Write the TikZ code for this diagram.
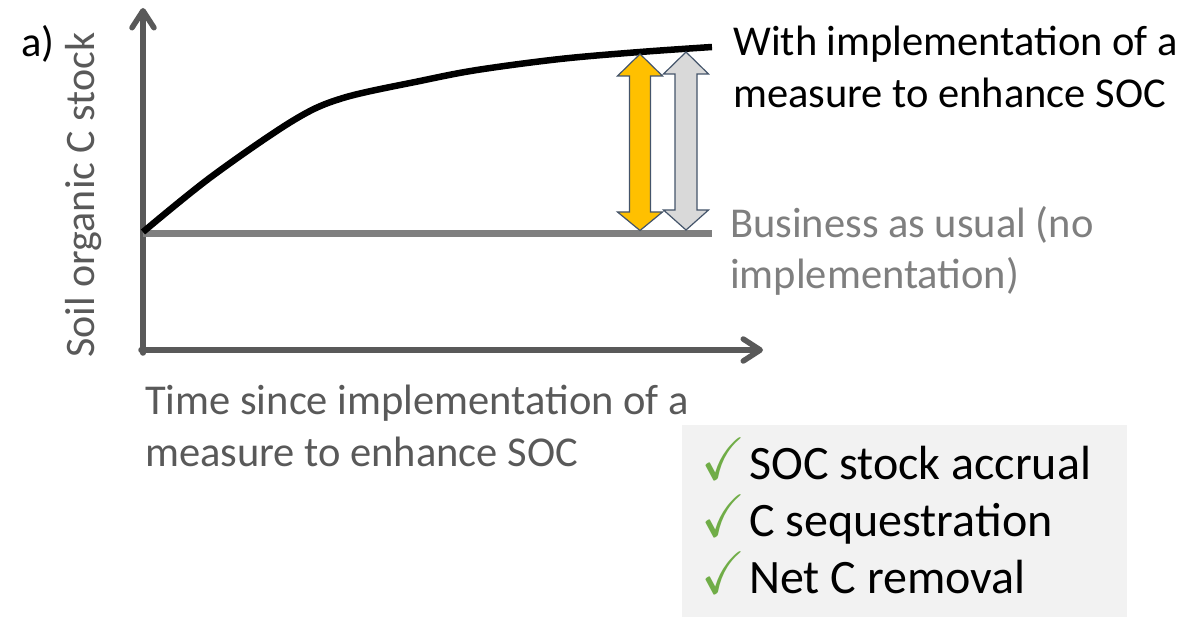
\documentclass[tikz,border=0pt]{standalone}
\usepackage{fontspec}
\usepackage{amssymb}
\usepackage{graphicx}
\setmainfont{Carlito}
\usetikzlibrary{arrows.meta}
\definecolor{axisgray}{HTML}{595959}
\definecolor{baugray}{HTML}{7F7F7F}
\definecolor{gold}{HTML}{FFC000}
\definecolor{lightg}{HTML}{D9D9D9}
\definecolor{outl}{HTML}{44546A}
\definecolor{boxbg}{HTML}{F2F2F2}
\definecolor{chk}{HTML}{70AD47}
\newcommand{\chk}{\makebox[48pt][l]{\color{chk}\scalebox{5.3}[6.0]{\fontsize{10}{10}\selectfont$\checkmark$}}}
\begin{document}
\begin{tikzpicture}[x=1pt,y=-1pt,
  axis/.style={draw=axisgray,line width=5.5pt,line cap=round,
    -{Straight Barb[length=17pt,width=22pt,line cap=round,line join=round]}},
  lbl/.style={inner sep=0pt,font=\fontsize{42.5}{52}\selectfont,align=left,anchor=base west},
  dblarrow/.style={draw=outl,line width=1.2pt,line join=miter}]
\useasboundingbox (0,0) rectangle (1183,620);
% grey box
\node[fill=boxbg,minimum width=445pt,minimum height=192pt,anchor=north west,inner sep=0pt] (box) at (682,425) {};
% axes
\coordinate (orig) at (143,350);
\coordinate (ybot) at (143,353);
\coordinate (ytip) at (143,8);
\coordinate (xstart) at (141,350);
\coordinate (xtip) at (763,350);
\draw[axis] (ybot) -- (ytip);
\draw[axis] (xstart) -- (xtip);
% business as usual line
\coordinate (b0) at (143,234);
\coordinate (b1) at (712,234);
\draw[baugray,line width=7pt] (b0) -- (b1);
% curve
\draw[black,line width=6.5pt] plot[smooth,tension=0.55] coordinates
  {(143,232) (211,177) (294,120) (343,98) (420,81) (477,70) (560,59) (640,52) (712,47)};
% double arrows
\draw[dblarrow,fill=gold] (640,54) -- (662.5,76) -- (650.5,76) -- (650.5,212) -- (662.5,212)
  -- (640,230.5) -- (617.5,212) -- (629.5,212) -- (629.5,76) -- (617.5,76) -- cycle;
\draw[dblarrow,fill=lightg] (686,52) -- (708.5,74) -- (697,74) -- (697,210) -- (708.5,210)
  -- (686,230) -- (663.5,210) -- (675,210) -- (675,74) -- (663.5,74) -- cycle;
% texts
\node[lbl] (with) at (733,108) {With implementation of a\\measure to enhance SOC};
\node[lbl,text=baugray,font=\fontsize{42.5}{51}\selectfont] (bau) at (730,288) {Business as usual (no\\implementation)};
\node[lbl,text=axisgray] (time) at (145,466) {Time since implementation of a\\measure to enhance SOC};
\node[lbl] (a) at (21,57) {a)};
\node[inner sep=0pt,font=\fontsize{42}{52}\selectfont,text=axisgray,rotate=90] (ylab) at (84,195) {Soil organic C stock};
\node[lbl,font=\fontsize{48}{57}\selectfont] (list) at (701,593)
  {\chk SOC stock accrual\\\chk C sequestration\\\chk Net C removal};
\end{tikzpicture}
\end{document}
